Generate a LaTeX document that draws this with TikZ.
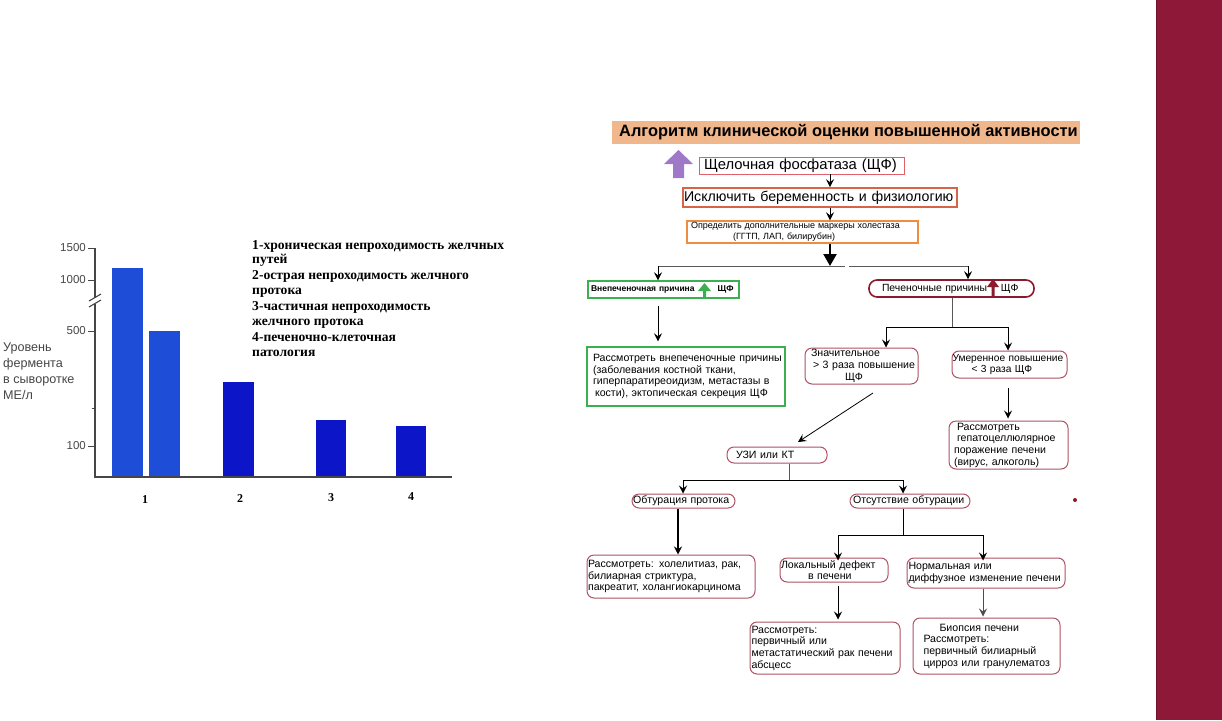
\documentclass[tikz,border=0pt]{standalone}
\usepackage{fontspec}
\setmainfont{Liberation Sans}
\newfontfamily\tnr{Liberation Serif}
\usetikzlibrary{arrows.meta}
\definecolor{sidebar}{RGB}{142,24,56}
\definecolor{peach}{RGB}{240,182,140}
\definecolor{barA}{RGB}{30,78,215}
\definecolor{barB}{RGB}{12,22,200}
\definecolor{pinkred}{RGB}{225,95,105}
\definecolor{orred}{RGB}{215,100,70}
\definecolor{orng}{RGB}{240,140,60}
\definecolor{grn}{RGB}{60,175,80}
\definecolor{dred}{RGB}{140,25,45}
\definecolor{rosy}{RGB}{175,80,100}
\definecolor{purp}{RGB}{160,120,200}
\definecolor{axisg}{RGB}{70,70,70}
\begin{document}
\begin{tikzpicture}[x=1pt,y=-1pt,
  bx/.style={draw, line width=1pt, inner xsep=3pt, inner ysep=0pt, align=left,
     font=\fontsize{10.6}{11.7}\selectfont},
  rbx/.style={bx, rounded corners=7pt, draw=rosy},
  arr/.style={-{Stealth[length=8pt,width=8pt,inset=3pt]}, line width=0.8pt},
  bigarr/.style={-{Triangle[length=12pt,width=13pt]}, line width=2.2pt},
  tick/.style={font=\fontsize{11.5}{12}\selectfont, text=axisg, anchor=east, inner sep=0pt},
  leg/.style={font=\tnr\bfseries\fontsize{13.6}{14.6}\selectfont, align=left, anchor=north west, inner sep=0pt},
  xl/.style={font=\tnr\bfseries\fontsize{12}{12}\selectfont, inner sep=0pt}
]
\useasboundingbox (0,0) rectangle (1222,720);
\fill[white] (0,0) rectangle (1222,720);
% sidebar
\fill[sidebar] (1156,0) rectangle (1222,720);
\draw[sidebar!80!black, line width=0.8pt] (1156.4,0) -- (1156.4,720);

% ---------------- left chart ----------------
\fill[barA] (112,268) rectangle (143,477);
\fill[barA] (149,331) rectangle (180,477);
\fill[barB] (223,382) rectangle (254,477);
\fill[barB] (316,420) rectangle (346,477);
\fill[barB] (396,426) rectangle (426,477);
\draw[axisg, line width=1.3pt] (95,248) -- (95,298);
\draw[axisg, line width=1.3pt] (95,304) -- (95,477) -- (452,477);
\draw[axisg, line width=1.1pt] (89,301) -- (101,294) (89,307) -- (101,300);
\foreach \yy in {248,280,331,446} \draw[axisg, line width=1pt] (88,\yy) -- (95,\yy);
\draw[axisg, line width=0.8pt] (92,408) -- (95,408);
\node[tick] (t1500) at (86,248) {1500};
\node[tick] (t1000) at (86,280) {1000};
\node[tick] (t500) at (86,331) {500};
\node[tick] (t100) at (86,446) {100};
\node[anchor=north west, inner sep=0pt, align=left, text=axisg,
  font=\fontsize{12.6}{16}\selectfont] (ylab) at (3,343) {Уровень\\фермента\\в сыворотке\\МЕ/л};
\node[xl] (x1) at (145,500) {1};
\node[xl] (x2) at (240,499) {2};
\node[xl] (x3) at (331,498) {3};
\node[xl] (x4) at (411,497) {4};
\node[leg] (legend) at (252,240) {1-хроническая непроходимость желчных\\путей\\[1.5pt]2-острая непроходимость желчного\\протока\\[1.5pt]3-частичная непроходимость\\желчного протока\\[2pt]4-печеночно-клеточная\\патология};

% ---------------- flowchart ----------------
\begin{scope}
\clip (612,121) rectangle (1080,144);
\fill[peach] (612,121) rectangle (1080,144);
\node[anchor=west, inner sep=0pt, font=\bfseries\fontsize{16.4}{16}\selectfont] (title) at (619,132.5) {Алгоритм клинической оценки повышенной активности};
\end{scope}

% purple arrow
\fill[purp] (673,178) -- (673,164) -- (664,164) -- (678.5,150) -- (693,164) -- (684,164) -- (684,178) -- cycle;

\coordinate (xA) at (830,0);
\node[bx, draw=pinkred, line width=0.9pt, minimum width=205, minimum height=17, text width=203, inner xsep=1pt,
  font=\fontsize{14.8}{15}\selectfont] (shf) at (801.5,165.5) {\hspace{4pt}Щелочная фосфатаза (ЩФ)};
\node[bx, draw=orred, line width=1.6pt, minimum width=274, minimum height=19, text width=272, inner xsep=1pt,
  font=\fontsize{14.2}{15}\selectfont] (iskl) at (820,197.5) {Исключить беременность и физиологию};
\node[bx, draw=orng, line width=1.4pt, minimum width=231, minimum height=22, text width=227, inner xsep=2pt,
  font=\fontsize{9}{10.5}\selectfont] (opr) at (802.5,232) {\hspace{2pt}Определить дополнительные маркеры холестаза\\\hspace{44pt}(ГГТП, ЛАП, билирубин)};

\draw[arr] (shf.south -| xA) -- (iskl.north -| xA);
\draw[arr] (iskl.south -| xA) -- (opr.north -| xA);

\node[bx, draw=grn, line width=1.4pt, minimum width=151, minimum height=17, text width=145,
  font=\fontsize{8.5}{10}\selectfont\bfseries] (vnep) at (663.5,289.5) {Внепеченочная причина\hspace{23pt}ЩФ};
\fill[grn] (703,298) -- (703,291) -- (698,291) -- (704.5,283) -- (711,291) -- (706,291) -- (706,298) -- cycle;

\node[bx, draw=dred, line width=1.6pt, rounded corners=8pt, minimum width=165, minimum height=17, text width=155,
  inner xsep=5pt, font=\fontsize{10.4}{12}\selectfont] (pech) at (951.5,288.5) {\hspace{8pt}Печеночные причины\hspace{14pt}ЩФ};
\fill[dred] (991.5,297) -- (991.5,287) -- (987,287) -- (993,279) -- (999,287) -- (994.5,287) -- (994.5,297) -- cycle;

\coordinate (j1) at (830,266);
\coordinate (xL) at (658,266);
\coordinate (xR) at (968,266);
\coordinate (gapL) at (845,266);
\coordinate (gapR) at (849,266);
\draw[bigarr] (opr.south -| xA) -- (j1);
\draw[line width=1pt, gray!70!black] (xL) -- (gapL) (gapR) -- (xR);
\draw[arr] (xL) -- (vnep.north -| xL);
\draw[arr] (xR) -- (pech.north -| xR);

\node[bx, draw=grn, line width=1.4pt, minimum width=198, minimum height=59, text width=194, inner xsep=2pt] (vnep2) at (686,376.5) {\hspace{4pt}Рассмотреть внепеченочные причины\\\hspace{4pt}(заболевания костной ткани,\\\hspace{4pt}гиперпаратиреоидизм, метастазы в\\\hspace{6pt}кости), эктопическая секреция ЩФ};
\draw[arr] ([yshift=-7pt]vnep.south -| xL) -- ([yshift=5pt]vnep2.north -| xL);

\node[rbx, minimum width=113, minimum height=36, text width=109, inner xsep=2pt] (znach) at (861.5,366) {\hspace{4pt}Значительное\\\hspace{6pt}> 3 раза повышение\\\hspace{38pt}ЩФ};
\node[rbx, minimum width=115, minimum height=27, text width=114, inner xsep=0.5pt,
  font=\fontsize{10.2}{11.7}\selectfont] (umer) at (1009.5,364.5) {Умеренное повышение\\\hspace{19pt}< 3 раза ЩФ};
\coordinate (j2) at (952,327);
\coordinate (x886) at (886,327);
\coordinate (x1008) at (1008,327);
\draw[line width=1pt, gray!70!black] (pech.south -| j2) -- (j2);
\draw[line width=0.9pt] (x886) -- (x1008);
\draw[arr] (x886) -- (znach.north -| x886);
\draw[arr] (x1008) -- (umer.north -| x1008);

\node[rbx, minimum width=119, minimum height=48, text width=113] (gep) at (1008.5,445) {\hspace{5pt}Рассмотреть\\\hspace{5pt}гепатоцеллюлярное\\\hspace{2pt}поражение печени\\\hspace{2pt}(вирус, алкоголь)};
\draw[arr] ([yshift=-9pt]umer.south -| x1008) -- ([yshift=2pt]gep.north -| x1008);

\node[rbx, minimum width=100, minimum height=16, text width=94] (uzi) at (777,455) {\hspace{6pt}УЗИ или КТ};
\coordinate (d1) at (873,393);
\coordinate (d2) at (798,442);
\draw[arr] (d1) -- (d2);

\coordinate (j3) at (789,480);
\coordinate (x683) at (683,480);
\coordinate (x903) at (903,480);
\draw[line width=1pt, gray!70!black] (uzi.south -| j3) -- (j3);
\draw[line width=0.9pt] (x683) -- (x903);
\node[rbx, minimum width=103, minimum height=14, text width=101, inner xsep=1pt] (obt) at (683.5,501) {Обтурация протока};
\node[rbx, minimum width=120, minimum height=14, text width=118, inner xsep=1pt] (otsut) at (910,501) {\hspace{2pt}Отсутствие обтурации};
\draw[arr] (x683) -- (obt.north -| x683);
\draw[arr] (x903) -- (otsut.north -| x903);

\coordinate (x678) at (678,0);
\node[rbx, minimum width=168, minimum height=43, text width=166, inner xsep=1pt] (hol) at (671,576.5) {Рассмотреть: холелитиаз, рак,\\билиарная стриктура,\\пакреатит, холангиокарцинома};
\draw[-{Stealth[length=8pt,width=8pt]}, line width=2pt] (obt.south -| x678) -- (hol.north -| x678);

\coordinate (j4) at (903,535);
\coordinate (x838) at (838,535);
\coordinate (x983) at (983,535);
\draw[line width=0.9pt] (otsut.south -| j4) -- (j4);
\draw[line width=0.9pt] (x838) -- (x983);
\node[rbx, minimum width=108, minimum height=24, text width=106, inner xsep=1pt] (lok) at (834,570) {Локальный дефект\\\hspace{27pt}в печени};
\node[rbx, minimum width=158, minimum height=30, text width=155, inner xsep=1.5pt] (norm) at (986,573) {Нормальная или\\диффузное изменение печени};
\draw[arr] (x838) -- ([yshift=-3pt]lok.north -| x838);
\draw[arr] (x983) -- ([yshift=-3pt]norm.north -| x983);

\node[rbx, minimum width=150, minimum height=52, text width=147, inner xsep=1.5pt] (rak) at (825,648) {Рассмотреть:\\первичный или\\метастатический рак печени\\абсцесс};
\node[rbx, minimum width=147, minimum height=56, text width=138, inner xsep=4.5pt] (biop) at (986.5,646) {\hspace{22pt}Биопсия печени\\\hspace{6pt}Рассмотреть:\\\hspace{6pt}первичный билиарный\\\hspace{6pt}цирроз или гранулематоз};
\draw[arr] ([yshift=-3pt]lok.south -| x838) -- ([yshift=2pt]rak.north -| x838);
\draw[arr, gray!60!black] (norm.south -| x983) -- ([yshift=1pt]biop.north -| x983);

\fill[dred] (1075,500) circle (2pt);
\end{tikzpicture}
\end{document}
